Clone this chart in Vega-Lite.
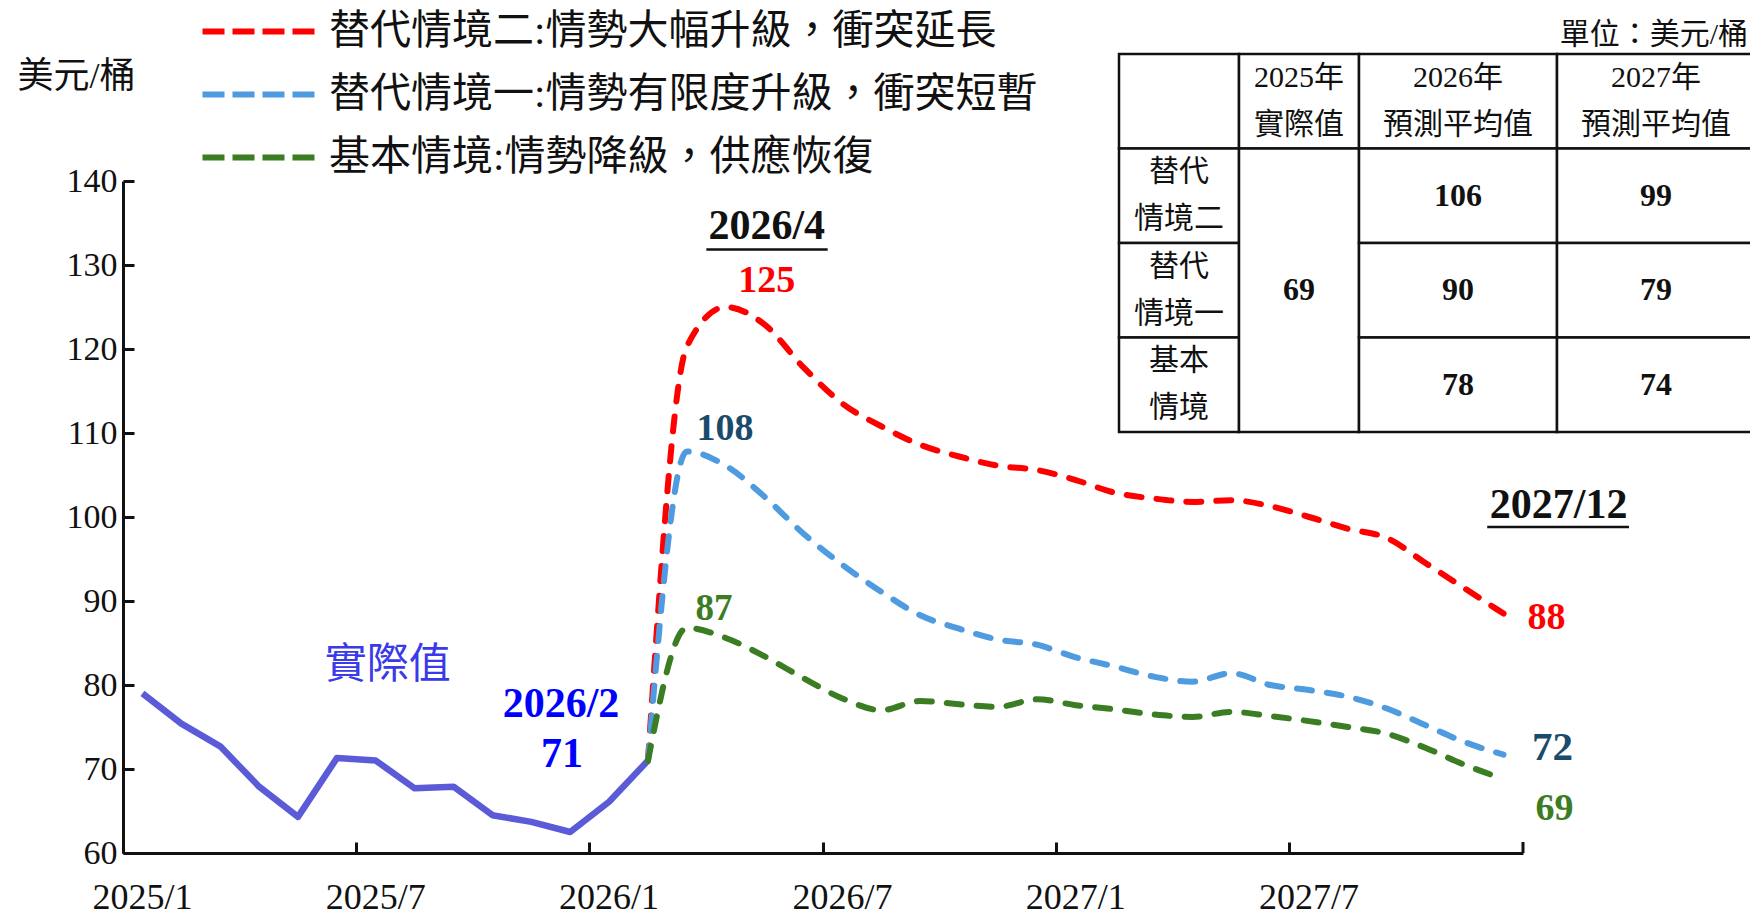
{
  "$schema": "https://vega.github.io/schema/vega-lite/v6.json",
  "width": 1400,
  "height": 672,
  "autosize": {"type": "none"},
  "padding": {"left": 123, "top": 181, "right": 227, "bottom": 64},
  "background": "white",
  "config": {"view": {"stroke": null}, "font": "Liberation Serif, Noto Sans CJK TC"},
  "datasets": {
    "actual": [
      {"month": "2025/1", "value": 79.0},
      {"month": "2025/2", "value": 75.4},
      {"month": "2025/3", "value": 72.7},
      {"month": "2025/4", "value": 67.9},
      {"month": "2025/5", "value": 64.3},
      {"month": "2025/6", "value": 71.3},
      {"month": "2025/7", "value": 71.0},
      {"month": "2025/8", "value": 67.7},
      {"month": "2025/9", "value": 67.9},
      {"month": "2025/10", "value": 64.5},
      {"month": "2025/11", "value": 63.7},
      {"month": "2025/12", "value": 62.5},
      {"month": "2026/1", "value": 66.1},
      {"month": "2026/2", "value": 71.0}
    ],
    "scenarios": [
      {"series": "替代情境二:情勢大幅升級，衝突延長", "month": "2026/2", "value": 71.0},
      {"series": "替代情境二:情勢大幅升級，衝突延長", "month": "2026/3", "value": 120.3},
      {"series": "替代情境二:情勢大幅升級，衝突延長", "month": "2026/4", "value": 125.0},
      {"series": "替代情境二:情勢大幅升級，衝突延長", "month": "2026/5", "value": 122.9},
      {"series": "替代情境二:情勢大幅升級，衝突延長", "month": "2026/6", "value": 117.8},
      {"series": "替代情境二:情勢大幅升級，衝突延長", "month": "2026/7", "value": 113.5},
      {"series": "替代情境二:情勢大幅升級，衝突延長", "month": "2026/8", "value": 110.8},
      {"series": "替代情境二:情勢大幅升級，衝突延長", "month": "2026/9", "value": 108.6},
      {"series": "替代情境二:情勢大幅升級，衝突延長", "month": "2026/10", "value": 107.2},
      {"series": "替代情境二:情勢大幅升級，衝突延長", "month": "2026/11", "value": 106.1},
      {"series": "替代情境二:情勢大幅升級，衝突延長", "month": "2026/12", "value": 105.6},
      {"series": "替代情境二:情勢大幅升級，衝突延長", "month": "2027/1", "value": 104.4},
      {"series": "替代情境二:情勢大幅升級，衝突延長", "month": "2027/2", "value": 102.9},
      {"series": "替代情境二:情勢大幅升級，衝突延長", "month": "2027/3", "value": 102.2},
      {"series": "替代情境二:情勢大幅升級，衝突延長", "month": "2027/4", "value": 101.8},
      {"series": "替代情境二:情勢大幅升級，衝突延長", "month": "2027/5", "value": 102.0},
      {"series": "替代情境二:情勢大幅升級，衝突延長", "month": "2027/6", "value": 101.3},
      {"series": "替代情境二:情勢大幅升級，衝突延長", "month": "2027/7", "value": 100.0},
      {"series": "替代情境二:情勢大幅升級，衝突延長", "month": "2027/8", "value": 98.6},
      {"series": "替代情境二:情勢大幅升級，衝突延長", "month": "2027/9", "value": 97.5},
      {"series": "替代情境二:情勢大幅升級，衝突延長", "month": "2027/10", "value": 94.5},
      {"series": "替代情境二:情勢大幅升級，衝突延長", "month": "2027/11", "value": 91.5},
      {"series": "替代情境二:情勢大幅升級，衝突延長", "month": "2027/12", "value": 88.5},
      {"series": "替代情境一:情勢有限度升級，衝突短暫", "month": "2026/2", "value": 71.0},
      {"series": "替代情境一:情勢有限度升級，衝突短暫", "month": "2026/3", "value": 107.8},
      {"series": "替代情境一:情勢有限度升級，衝突短暫", "month": "2026/4", "value": 106.1},
      {"series": "替代情境一:情勢有限度升級，衝突短暫", "month": "2026/5", "value": 102.4},
      {"series": "替代情境一:情勢有限度升級，衝突短暫", "month": "2026/6", "value": 98.0},
      {"series": "替代情境一:情勢有限度升級，衝突短暫", "month": "2026/7", "value": 94.3},
      {"series": "替代情境一:情勢有限度升級，衝突短暫", "month": "2026/8", "value": 91.1},
      {"series": "替代情境一:情勢有限度升級，衝突短暫", "month": "2026/9", "value": 88.3},
      {"series": "替代情境一:情勢有限度升級，衝突短暫", "month": "2026/10", "value": 86.7},
      {"series": "替代情境一:情勢有限度升級，衝突短暫", "month": "2026/11", "value": 85.4},
      {"series": "替代情境一:情勢有限度升級，衝突短暫", "month": "2026/12", "value": 84.8},
      {"series": "替代情境一:情勢有限度升級，衝突短暫", "month": "2027/1", "value": 83.3},
      {"series": "替代情境一:情勢有限度升級，衝突短暫", "month": "2027/2", "value": 82.2},
      {"series": "替代情境一:情勢有限度升級，衝突短暫", "month": "2027/3", "value": 81.0},
      {"series": "替代情境一:情勢有限度升級，衝突短暫", "month": "2027/4", "value": 80.4},
      {"series": "替代情境一:情勢有限度升級，衝突短暫", "month": "2027/5", "value": 81.4},
      {"series": "替代情境一:情勢有限度升級，衝突短暫", "month": "2027/6", "value": 80.0},
      {"series": "替代情境一:情勢有限度升級，衝突短暫", "month": "2027/7", "value": 79.4},
      {"series": "替代情境一:情勢有限度升級，衝突短暫", "month": "2027/8", "value": 78.6},
      {"series": "替代情境一:情勢有限度升級，衝突短暫", "month": "2027/9", "value": 77.2},
      {"series": "替代情境一:情勢有限度升級，衝突短暫", "month": "2027/10", "value": 75.2},
      {"series": "替代情境一:情勢有限度升級，衝突短暫", "month": "2027/11", "value": 73.2},
      {"series": "替代情境一:情勢有限度升級，衝突短暫", "month": "2027/12", "value": 71.7},
      {"series": "基本情境:情勢降級，供應恢復", "month": "2026/2", "value": 71.0},
      {"series": "基本情境:情勢降級，供應恢復", "month": "2026/3", "value": 86.8},
      {"series": "基本情境:情勢降級，供應恢復", "month": "2026/4", "value": 85.6},
      {"series": "基本情境:情勢降級，供應恢復", "month": "2026/5", "value": 83.4},
      {"series": "基本情境:情勢降級，供應恢復", "month": "2026/6", "value": 80.8},
      {"series": "基本情境:情勢降級，供應恢復", "month": "2026/7", "value": 78.4},
      {"series": "基本情境:情勢降級，供應恢復", "month": "2026/8", "value": 77.0},
      {"series": "基本情境:情勢降級，供應恢復", "month": "2026/9", "value": 78.1},
      {"series": "基本情境:情勢降級，供應恢復", "month": "2026/10", "value": 77.7},
      {"series": "基本情境:情勢降級，供應恢復", "month": "2026/11", "value": 77.4},
      {"series": "基本情境:情勢降級，供應恢復", "month": "2026/12", "value": 78.3},
      {"series": "基本情境:情勢降級，供應恢復", "month": "2027/1", "value": 77.6},
      {"series": "基本情境:情勢降級，供應恢復", "month": "2027/2", "value": 77.1},
      {"series": "基本情境:情勢降級，供應恢復", "month": "2027/3", "value": 76.5},
      {"series": "基本情境:情勢降級，供應恢復", "month": "2027/4", "value": 76.2},
      {"series": "基本情境:情勢降級，供應恢復", "month": "2027/5", "value": 76.8},
      {"series": "基本情境:情勢降級，供應恢復", "month": "2027/6", "value": 76.3},
      {"series": "基本情境:情勢降級，供應恢復", "month": "2027/7", "value": 75.7},
      {"series": "基本情境:情勢降級，供應恢復", "month": "2027/8", "value": 75.0},
      {"series": "基本情境:情勢降級，供應恢復", "month": "2027/9", "value": 74.2},
      {"series": "基本情境:情勢降級，供應恢復", "month": "2027/10", "value": 72.5},
      {"series": "基本情境:情勢降級，供應恢復", "month": "2027/11", "value": 70.5},
      {"series": "基本情境:情勢降級，供應恢復", "month": "2027/12", "value": 68.8}
    ],
    "tableCells": [
      {"col": "項目", "row": "表頭", "rowEnd": "表頭"},
      {"col": "2025年實際值", "row": "表頭", "rowEnd": "表頭"},
      {"col": "2026年預測平均值", "row": "表頭", "rowEnd": "表頭"},
      {"col": "2027年預測平均值", "row": "表頭", "rowEnd": "表頭"},
      {"col": "項目", "row": "替代情境二", "rowEnd": "替代情境二"},
      {"col": "項目", "row": "替代情境一", "rowEnd": "替代情境一"},
      {"col": "項目", "row": "基本情境", "rowEnd": "基本情境"},
      {"col": "2025年實際值", "row": "替代情境二", "rowEnd": "基本情境"},
      {"col": "2026年預測平均值", "row": "替代情境二", "rowEnd": "替代情境二"},
      {"col": "2026年預測平均值", "row": "替代情境一", "rowEnd": "替代情境一"},
      {"col": "2026年預測平均值", "row": "基本情境", "rowEnd": "基本情境"},
      {"col": "2027年預測平均值", "row": "替代情境二", "rowEnd": "替代情境二"},
      {"col": "2027年預測平均值", "row": "替代情境一", "rowEnd": "替代情境一"},
      {"col": "2027年預測平均值", "row": "基本情境", "rowEnd": "基本情境"}
    ],
    "tableHeaders": [
      {"col": "2025年實際值", "row": "表頭", "text": ["2025年", "實際值"]},
      {"col": "2026年預測平均值", "row": "表頭", "text": ["2026年", "預測平均值"]},
      {"col": "2027年預測平均值", "row": "表頭", "text": ["2027年", "預測平均值"]},
      {"col": "項目", "row": "替代情境二", "text": ["替代", "情境二"]},
      {"col": "項目", "row": "替代情境一", "text": ["替代", "情境一"]},
      {"col": "項目", "row": "基本情境", "text": ["基本", "情境"]}
    ],
    "tableValues": [
      {"col": "2025年實際值", "row": "替代情境一", "text": "69"},
      {"col": "2026年預測平均值", "row": "替代情境二", "text": "106"},
      {"col": "2026年預測平均值", "row": "替代情境一", "text": "90"},
      {"col": "2026年預測平均值", "row": "基本情境", "text": "78"},
      {"col": "2027年預測平均值", "row": "替代情境二", "text": "99"},
      {"col": "2027年預測平均值", "row": "替代情境一", "text": "79"},
      {"col": "2027年預測平均值", "row": "基本情境", "text": "74"}
    ]
  },
  "layer": [
    {
      "encoding": {
        "x": {
          "field": "month", "type": "ordinal", "title": null,
          "scale": {
            "type": "band", "paddingInner": 0, "paddingOuter": 0,
            "domain": ["2025/1","2025/2","2025/3","2025/4","2025/5","2025/6","2025/7","2025/8","2025/9","2025/10","2025/11","2025/12",
                       "2026/1","2026/2","2026/3","2026/4","2026/5","2026/6","2026/7","2026/8","2026/9","2026/10","2026/11","2026/12",
                       "2027/1","2027/2","2027/3","2027/4","2027/5","2027/6","2027/7","2027/8","2027/9","2027/10","2027/11","2027/12"]
          },
          "axis": {
            "values": ["2025/1","2025/7","2026/1","2026/7","2027/1","2027/7"],
            "bandPosition": 0, "labelAngle": 0,
            "tickSize": -11, "tickWidth": 3, "tickColor": "#111",
            "domainWidth": 3, "domainColor": "#111",
            "labelFont": "Liberation Serif", "labelFontSize": 36, "labelColor": "#111",
            "labelBaseline": "alphabetic", "labelPadding": 66, "labelFlush": false, "labelOverlap": false,
            "grid": false
          }
        },
        "y": {
          "field": "value", "type": "quantitative",
          "scale": {"domain": [60, 140], "zero": false, "nice": false},
          "axis": {
            "values": [60, 70, 80, 90, 100, 110, 120, 130, 140],
            "tickSize": -11, "tickWidth": 3, "tickColor": "#111",
            "domainWidth": 3, "domainColor": "#111",
            "labelFont": "Liberation Serif", "labelFontSize": 34, "labelColor": "#111", "labelPadding": 17,
            "grid": false,
            "title": "美元/桶", "titleAngle": 0, "titleAlign": "left", "titleBaseline": "middle",
            "titleX": -106, "titleY": -105, "titleFont": "Liberation Serif, Noto Sans CJK TC",
            "titleFontSize": 36, "titleFontWeight": "normal", "titleColor": "#111"
          }
        }
      },
      "layer": [
        {
          "data": {"name": "actual"},
          "mark": {"type": "line", "color": "#5B5BD8", "strokeWidth": 6.5, "strokeJoin": "round"}
        },
        {
          "data": {"name": "scenarios"},
          "mark": {"type": "line", "strokeWidth": 6, "strokeDash": [15, 15], "strokeCap": "round", "interpolate": "monotone"},
          "encoding": {
            "color": {
              "field": "series", "type": "nominal",
              "scale": {
                "domain": ["替代情境二:情勢大幅升級，衝突延長", "替代情境一:情勢有限度升級，衝突短暫", "基本情境:情勢降級，供應恢復"],
                "range": ["#FF0000", "#4F9BE0", "#3B7D23"]
              },
              "legend": {
                "orient": "none", "legendX": 115, "legendY": -170, "direction": "vertical",
                "title": null, "padding": 0,
                "symbolType": "M-4,0H4", "symbolSize": 784, "symbolStrokeWidth": 6, "symbolDash": [22, 8],
                "labelFont": "Liberation Serif, Noto Sans CJK TC", "labelFontSize": 41, "labelColor": "#111",
                "labelLimit": 0, "labelOffset": 50, "rowPadding": 21
              }
            }
          }
        },
        {
          "data": {"values": [{"month": "2025/7", "value": 71.0, "label": "實際值"}]},
          "mark": {"type": "text", "color": "#3A3AE8", "fontSize": 42, "font": "Liberation Serif, Noto Sans CJK TC", "align": "center", "baseline": "middle", "dx": 12, "dy": -96},
          "encoding": {"text": {"field": "label"}}
        },
        {
          "data": {"values": [{"month": "2026/2", "value": 71.0, "label": "2026/2"}]},
          "mark": {"type": "text", "color": "#0000FF", "fontSize": 42, "fontWeight": "bold", "font": "Liberation Serif", "align": "center", "baseline": "middle", "dx": -87, "dy": -57},
          "encoding": {"text": {"field": "label"}}
        },
        {
          "data": {"values": [{"month": "2026/2", "value": 71.0, "label": "71"}]},
          "mark": {"type": "text", "color": "#0000FF", "fontSize": 42, "fontWeight": "bold", "font": "Liberation Serif", "align": "center", "baseline": "middle", "dx": -86, "dy": -7},
          "encoding": {"text": {"field": "label"}}
        },
        {
          "data": {"values": [{"month": "2026/4", "value": 125.0, "label": "2026/4"}]},
          "mark": {"type": "text", "color": "#111", "fontSize": 42, "fontWeight": "bold", "font": "Liberation Serif", "align": "center", "baseline": "middle", "dx": 41, "dy": -81},
          "encoding": {"text": {"field": "label"}}
        },
        {
          "data": {"values": [{"month": "2026/4", "value": 125.0, "label": "125"}]},
          "mark": {"type": "text", "color": "#FF0000", "fontSize": 38, "fontWeight": "bold", "font": "Liberation Serif", "align": "center", "baseline": "middle", "dx": 41, "dy": -26},
          "encoding": {"text": {"field": "label"}}
        },
        {
          "data": {"values": [{"month": "2026/3", "value": 107.8, "label": "108"}]},
          "mark": {"type": "text", "color": "#1B4B6B", "fontSize": 38, "fontWeight": "bold", "font": "Liberation Serif", "align": "center", "baseline": "middle", "dx": 38, "dy": -22},
          "encoding": {"text": {"field": "label"}}
        },
        {
          "data": {"values": [{"month": "2026/3", "value": 86.8, "label": "87"}]},
          "mark": {"type": "text", "color": "#3B7D23", "fontSize": 37, "fontWeight": "bold", "font": "Liberation Serif", "align": "center", "baseline": "middle", "dx": 27, "dy": -19},
          "encoding": {"text": {"field": "label"}}
        },
        {
          "data": {"values": [{"month": "2027/12", "value": 88.5, "label": "2027/12"}]},
          "mark": {"type": "text", "color": "#111", "fontSize": 42, "fontWeight": "bold", "font": "Liberation Serif", "align": "center", "baseline": "middle", "dx": 55, "dy": -109},
          "encoding": {"text": {"field": "label"}}
        },
        {
          "data": {"values": [{"month": "2027/12", "value": 88.5, "label": "88"}]},
          "mark": {"type": "text", "color": "#FF0000", "fontSize": 38, "fontWeight": "bold", "font": "Liberation Serif", "align": "center", "baseline": "middle", "dx": 43, "dy": 4},
          "encoding": {"text": {"field": "label"}}
        },
        {
          "data": {"values": [{"month": "2027/12", "value": 71.7, "label": "72"}]},
          "mark": {"type": "text", "color": "#1B4B6B", "fontSize": 41, "fontWeight": "bold", "font": "Liberation Serif", "align": "center", "baseline": "middle", "dx": 49, "dy": -7},
          "encoding": {"text": {"field": "label"}}
        },
        {
          "data": {"values": [{"month": "2027/12", "value": 68.8, "label": "69"}]},
          "mark": {"type": "text", "color": "#3B7D23", "fontSize": 38, "fontWeight": "bold", "font": "Liberation Serif", "align": "center", "baseline": "middle", "dx": 51, "dy": 30},
          "encoding": {"text": {"field": "label"}}
        },
        {
          "data": {"values": [{"month": "2026/4", "monthEnd": "2026/7", "value": 125.0}]},
          "mark": {"type": "rule", "color": "#111", "strokeWidth": 2.5, "yOffset": -57.5},
          "encoding": {
            "x": {"field": "month", "type": "ordinal", "bandPosition": 0},
            "x2": {"field": "monthEnd", "bandPosition": 0.12},
            "y": {"field": "value", "type": "quantitative"}
          }
        },
        {
          "data": {"values": [{"month": "2027/12", "value": 88.5}]},
          "mark": {"type": "rule", "color": "#111", "strokeWidth": 2.5, "yOffset": -86.6, "x2Offset": 106},
          "encoding": {
            "x": {"field": "month", "type": "ordinal", "bandPosition": 0.08},
            "x2": {"field": "month", "bandPosition": 1},
            "y": {"field": "value", "type": "quantitative"}
          }
        },
        {
          "data": {"values": [{"month": "2027/12", "value": 60}]},
          "mark": {"type": "rule", "color": "#111", "strokeWidth": 3, "y2Offset": -11},
          "encoding": {
            "x": {"field": "month", "type": "ordinal", "bandPosition": 1},
            "y": {"field": "value", "type": "quantitative"},
            "y2": {"field": "value"}
          }
        }
      ]
    },
    {
      "encoding": {
        "y": {
          "field": "row", "type": "nominal",
          "scale": {"type": "band", "domain": ["表頭", "替代情境二", "替代情境一", "基本情境"], "range": [-127, 251], "paddingInner": 0, "paddingOuter": 0},
          "axis": null
        }
      },
      "layer": [
        {
          "encoding": {
            "x": {
              "field": "col", "type": "nominal",
              "scale": {"type": "band", "domain": ["項目", "2025年實際值"], "range": [996, 1236], "paddingInner": 0, "paddingOuter": 0},
              "axis": null
            }
          },
          "layer": [
            {
              "data": {"name": "tableCells"},
              "transform": [{"filter": {"field": "col", "oneOf": ["項目", "2025年實際值"]}}],
              "mark": {"type": "rect", "fill": "white", "stroke": "#111", "strokeWidth": 2.5},
              "encoding": {
                "y": {
                  "field": "row", "type": "nominal", "bandPosition": 0,
                  "scale": {"type": "band", "domain": ["表頭", "替代情境二", "替代情境一", "基本情境"], "range": [-127, 251], "paddingInner": 0, "paddingOuter": 0},
                  "axis": null
                },
                "y2": {"field": "rowEnd", "bandPosition": 1}
              }
            },
            {
              "data": {"name": "tableHeaders"},
              "transform": [{"filter": {"field": "col", "oneOf": ["項目", "2025年實際值"]}}],
              "mark": {"type": "text", "color": "#111", "fontSize": 30, "font": "Liberation Serif, Noto Sans CJK TC", "align": "center", "baseline": "middle", "lineHeight": 47, "dy": -23.5},
              "encoding": {"text": {"field": "text"}}
            },
            {
              "data": {"name": "tableValues"},
              "transform": [{"filter": {"field": "col", "oneOf": ["項目", "2025年實際值"]}}],
              "mark": {"type": "text", "color": "#111", "fontSize": 32, "fontWeight": "bold", "font": "Liberation Serif", "align": "center", "baseline": "middle"},
              "encoding": {"text": {"field": "text"}}
            }
          ]
        },
        {
          "encoding": {
            "x": {
              "field": "col", "type": "nominal",
              "scale": {"type": "band", "domain": ["2026年預測平均值", "2027年預測平均值"], "range": [1236, 1632], "paddingInner": 0, "paddingOuter": 0},
              "axis": null
            }
          },
          "layer": [
            {
              "data": {"name": "tableCells"},
              "transform": [{"filter": {"field": "col", "oneOf": ["2026年預測平均值", "2027年預測平均值"]}}],
              "mark": {"type": "rect", "fill": "white", "stroke": "#111", "strokeWidth": 2.5},
              "encoding": {
                "y": {
                  "field": "row", "type": "nominal", "bandPosition": 0,
                  "scale": {"type": "band", "domain": ["表頭", "替代情境二", "替代情境一", "基本情境"], "range": [-127, 251], "paddingInner": 0, "paddingOuter": 0},
                  "axis": null
                },
                "y2": {"field": "rowEnd", "bandPosition": 1}
              }
            },
            {
              "data": {"name": "tableHeaders"},
              "transform": [{"filter": {"field": "col", "oneOf": ["2026年預測平均值", "2027年預測平均值"]}}],
              "mark": {"type": "text", "color": "#111", "fontSize": 30, "font": "Liberation Serif, Noto Sans CJK TC", "align": "center", "baseline": "middle", "lineHeight": 47, "dy": -23.5},
              "encoding": {"text": {"field": "text"}}
            },
            {
              "data": {"name": "tableValues"},
              "transform": [{"filter": {"field": "col", "oneOf": ["2026年預測平均值", "2027年預測平均值"]}}],
              "mark": {"type": "text", "color": "#111", "fontSize": 32, "fontWeight": "bold", "font": "Liberation Serif", "align": "center", "baseline": "middle"},
              "encoding": {"text": {"field": "text"}}
            },
            {
              "data": {"values": [{"col": "2027年預測平均值", "row": "表頭", "text": "單位：美元/桶"}]},
              "mark": {"type": "text", "color": "#111", "fontSize": 30, "font": "Liberation Serif, Noto Sans CJK TC", "align": "right", "baseline": "middle", "dx": -7, "dy": -19},
              "encoding": {
                "text": {"field": "text"},
                "x": {
                  "field": "col", "type": "nominal", "bandPosition": 1,
                  "scale": {"type": "band", "domain": ["2026年預測平均值", "2027年預測平均值"], "range": [1236, 1632], "paddingInner": 0, "paddingOuter": 0},
                  "axis": null
                },
                "y": {
                  "field": "row", "type": "nominal", "bandPosition": 0,
                  "scale": {"type": "band", "domain": ["表頭", "替代情境二", "替代情境一", "基本情境"], "range": [-127, 251], "paddingInner": 0, "paddingOuter": 0},
                  "axis": null
                }
              }
            }
          ]
        }
      ],
      "resolve": {"scale": {"x": "independent"}}
    }
  ],
  "resolve": {"scale": {"x": "independent", "y": "independent"}}
}
